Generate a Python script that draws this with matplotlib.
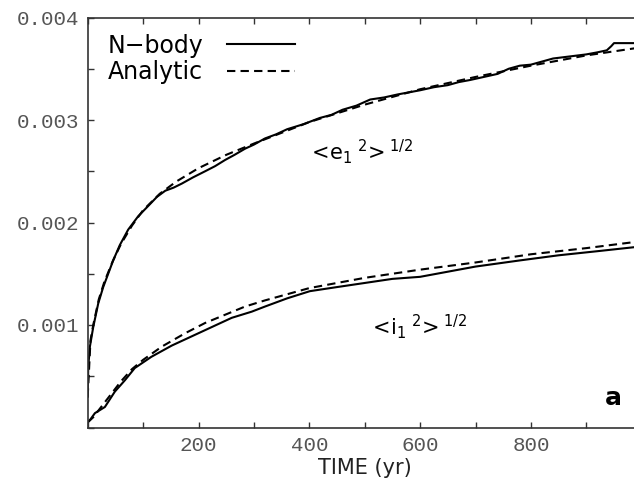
# N-body vs analytic growth of rms eccentricity and inclination

import numpy as np
import matplotlib.pyplot as plt
from matplotlib.ticker import MultipleLocator

# e curve, N-body (time in yr, value in units of 1e-3)
t_e_nbody = [0, 1, 4, 10, 19, 28, 37, 46, 58, 73, 91, 109, 125, 140, 155, 170, 190,
             212, 230, 248, 265, 284, 300, 320, 340, 360, 390, 419, 440, 460, 485,
             510, 535, 560, 580, 600, 625, 650, 670, 690, 715, 740, 760, 780, 800,
             820, 840, 870, 900, 920, 937, 945, 950, 970, 988]
e_nbody = [0.30, 0.59, 0.79, 0.98, 1.21, 1.37, 1.50, 1.63, 1.78, 1.93, 2.06, 2.16,
           2.25, 2.31, 2.34, 2.38, 2.44, 2.50, 2.55, 2.61, 2.66, 2.72, 2.76, 2.82,
           2.86, 2.91, 2.96, 3.02, 3.05, 3.10, 3.14, 3.20, 3.22, 3.25, 3.27, 3.29,
           3.32, 3.34, 3.37, 3.39, 3.42, 3.45, 3.50, 3.53, 3.54, 3.57, 3.60, 3.62,
           3.64, 3.66, 3.68, 3.72, 3.75, 3.75, 3.75]

# e curve, analytic
t_e_analytic = [0, 5, 10, 20, 30, 45, 60, 80, 100, 130, 160, 200, 250, 300, 400,
                500, 600, 700, 800, 900, 988]
e_analytic = [0.30, 0.85, 1.00, 1.25, 1.42, 1.62, 1.79, 1.97, 2.12, 2.28, 2.40,
              2.53, 2.66, 2.77, 2.98, 3.15, 3.30, 3.42, 3.53, 3.63, 3.70]

# i curve, N-body
t_i_nbody = [0, 5, 13, 31, 49, 67, 85, 115, 152, 188, 224, 260, 296, 320, 360, 401,
             450, 500, 550, 600, 650, 700, 780, 850, 920, 988]
i_nbody = [0.05, 0.08, 0.14, 0.20, 0.35, 0.46, 0.58, 0.69, 0.80, 0.89, 0.98, 1.07,
           1.13, 1.18, 1.26, 1.33, 1.37, 1.41, 1.45, 1.47, 1.52, 1.57, 1.63, 1.68,
           1.72, 1.76]

# i curve, analytic
t_i_analytic = [0, 10, 20, 40, 60, 80, 100, 134, 176, 212, 248, 284, 320, 400, 500,
                600, 700, 800, 900, 988]
i_analytic = [0.05, 0.10, 0.17, 0.31, 0.45, 0.57, 0.66, 0.79, 0.92, 1.02, 1.10,
              1.18, 1.24, 1.36, 1.46, 1.54, 1.61, 1.69, 1.75, 1.81]

plt.rcParams['mathtext.fontset'] = 'dejavusans'
plt.rcParams['mathtext.default'] = 'regular'

fig = plt.figure(figsize=(6.34, 4.82), dpi=100)
ax = fig.add_axes([87.7 / 634, 1 - 427.5 / 482, 554 / 634, 410 / 482])

lw = 1.5
ax.plot(t_e_nbody, np.array(e_nbody) * 1e-3, color='black', lw=lw, label='N\u2212body')
ax.plot(t_e_analytic, np.array(e_analytic) * 1e-3, color='black', lw=lw,
        dashes=(4, 2.5), label='Analytic')
ax.plot(t_i_nbody, np.array(i_nbody) * 1e-3, color='black', lw=lw)
ax.plot(t_i_analytic, np.array(i_analytic) * 1e-3, color='black', lw=lw, dashes=(4, 2.5))

ax.set_xlim(0, 1000)
ax.set_ylim(0, 0.004)
ax.set_xticks([200, 400, 600, 800])
ax.xaxis.set_minor_locator(MultipleLocator(100))
ax.set_yticks([0.001, 0.002, 0.003, 0.004])
ax.set_yticklabels(['0.001', '0.002', '0.003', '0.004'])
ax.yaxis.set_minor_locator(MultipleLocator(0.0005))

ax.tick_params(which='both', direction='in', top=True, right=False,
               length=4, width=1, color='#333333')
ax.tick_params(axis='both', labelsize=15, pad=6, labelcolor='#555555',
               labelfontfamily='Liberation Mono')

for side in ['left', 'bottom', 'top']:
    ax.spines[side].set_linewidth(1.2)
    ax.spines[side].set_color('#333333')
ax.spines['right'].set_visible(False)

ax.set_xlabel('TIME (yr)', fontsize=15, labelpad=2, color='#222222')

ax.text(492, 0.00269, r'$<\!e_1{}^{\ 2}\!>^{1/2}$', fontsize=15, ha='center', va='center')
ax.text(595, 0.00098, r'$<\!i_1{}^{\ 2}\!>^{1/2}$', fontsize=15, ha='center', va='center')
ax.text(948, 0.00029, 'a', fontsize=18, fontweight='bold', ha='center', va='center')

ax.legend(loc='upper left', bbox_to_anchor=(0.01, 0.995), frameon=False,
          markerfirst=False, fontsize=17, handlelength=2.9, handletextpad=1.0,
          labelspacing=0.1, borderaxespad=0.2)

fig.savefig('out.png', dpi=100)
